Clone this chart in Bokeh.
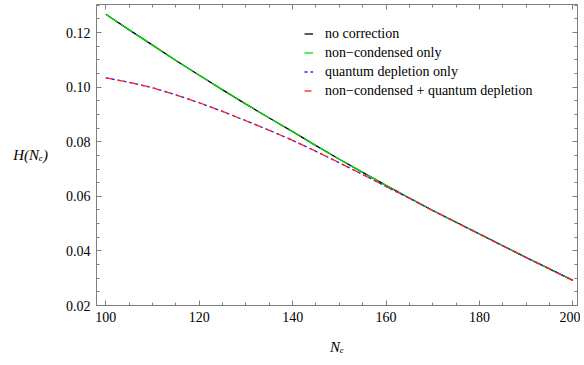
from bokeh.plotting import figure
from bokeh.models import (LinearAxis, SingleIntervalTicker, NumeralTickFormatter,
                          CustomJSTickFormatter, Range1d, Legend, LegendItem)
from bokeh.embed import file_html
from bokeh.resources import INLINE

# ---- data ----
n_e = [100, 105, 110, 115, 120, 125, 130, 135, 140, 145, 150,
       155, 160, 165, 170, 175, 180, 185, 190, 195, 200]
h_no_correction = [0.1267, 0.1210, 0.1154, 0.1098, 0.1044, 0.0990, 0.0938, 0.0887, 0.0837, 0.0786, 0.0736,
                   0.0688, 0.0640, 0.0594, 0.0548, 0.0505, 0.0462, 0.0419, 0.0376, 0.0334, 0.0292]
h_non_condensed = [0.1267, 0.1210, 0.1154, 0.1098, 0.1044, 0.0990, 0.0938, 0.0887, 0.0837, 0.0786, 0.0736,
                   0.0688, 0.0640, 0.0594, 0.0548, 0.0505, 0.0462, 0.0419, 0.0376, 0.0334, 0.0292]
h_quantum_depletion = [0.1034, 0.1018, 0.0998, 0.0972, 0.0943, 0.0911, 0.0877, 0.0842, 0.0805, 0.0765, 0.0723,
                       0.0680, 0.0636, 0.0593, 0.0548, 0.0505, 0.0462, 0.0419, 0.0376, 0.0334, 0.0292]
h_both = [0.1034, 0.1018, 0.0998, 0.0972, 0.0943, 0.0911, 0.0877, 0.0842, 0.0805, 0.0765, 0.0723,
          0.0680, 0.0636, 0.0593, 0.0548, 0.0505, 0.0462, 0.0419, 0.0376, 0.0334, 0.0292]
series_labels = ["no correction", "non\u2212condensed only", "quantum depletion only",
                 "non\u2212condensed + quantum depletion"]
x_title = "N\u2091"
y_title = "H(N\u2091)"

FONT = "Liberation Serif"
AXC = "#7f7f7f"

p = figure(width=580, height=363, output_backend="svg", toolbar_location=None,
           x_range=Range1d(98.0, 201.0), y_range=Range1d(0.02, 0.1303),
           x_axis_location=None, y_axis_location=None,
           min_border_left=96, min_border_right=3, min_border_top=4, min_border_bottom=58)
p.outline_line_color = None
p.xgrid.visible = False
p.ygrid.visible = False
p.background_fill_color = "white"


def style_axis(ax, show_labels):
    ax.axis_line_color = AXC
    ax.major_tick_line_color = AXC
    ax.minor_tick_line_color = AXC
    ax.major_tick_in = 5
    ax.major_tick_out = 0
    ax.minor_tick_in = 3
    ax.minor_tick_out = 0
    ax.major_label_text_font = FONT
    ax.major_label_text_font_size = "14px"
    ax.major_label_text_color = "black"
    ax.axis_label_text_font = FONT
    ax.axis_label_text_font_size = "15px"
    ax.axis_label_text_font_style = "italic"
    ax.axis_label_text_color = "black"
    if show_labels:
        ax.major_label_standoff = 6
    else:
        ax.major_label_standoff = 0
        ax.formatter = CustomJSTickFormatter(code="return ''")


xb = LinearAxis(ticker=SingleIntervalTicker(interval=20, num_minor_ticks=4),
                axis_label=x_title)
style_axis(xb, True)
xb.axis_label_standoff = 14
xt = LinearAxis(ticker=SingleIntervalTicker(interval=20, num_minor_ticks=4))
style_axis(xt, False)
yl = LinearAxis(ticker=SingleIntervalTicker(interval=0.02, num_minor_ticks=4),
                formatter=NumeralTickFormatter(format="0.00"), axis_label=y_title,
                axis_label_orientation="horizontal")
style_axis(yl, True)
yl.axis_label_standoff = 15
yr = LinearAxis(ticker=SingleIntervalTicker(interval=0.02, num_minor_ticks=4))
style_axis(yr, False)
p.add_layout(xb, "below")
p.add_layout(xt, "above")
p.add_layout(yl, "left")
p.add_layout(yr, "right")

r0 = p.line(n_e, h_no_correction, line_color="black", line_width=1.3)
r1 = p.line(n_e, h_non_condensed, line_color="#00e000", line_width=1.3, line_dash="14 4")
r2 = p.line(n_e, h_quantum_depletion, line_color="#2020ff", line_width=1.3, line_dash="3 3")
r3 = p.line(n_e, h_both, line_color="#ff2020", line_width=1.3, line_dash="7 5")

legend = Legend(items=[LegendItem(label=series_labels[0], renderers=[r0]),
                       LegendItem(label=series_labels[1], renderers=[r1]),
                       LegendItem(label=series_labels[2], renderers=[r2]),
                       LegendItem(label=series_labels[3], renderers=[r3])],
                location=(208, 205), border_line_color=None, background_fill_alpha=0,
                padding=0, margin=0, spacing=0, glyph_width=9, glyph_height=19,
                label_height=19, label_standoff=12,
                label_text_font=FONT, label_text_font_size="14px", label_text_color="black")
p.add_layout(legend, "center")

open("out.html", "w").write(file_html(p, INLINE))
